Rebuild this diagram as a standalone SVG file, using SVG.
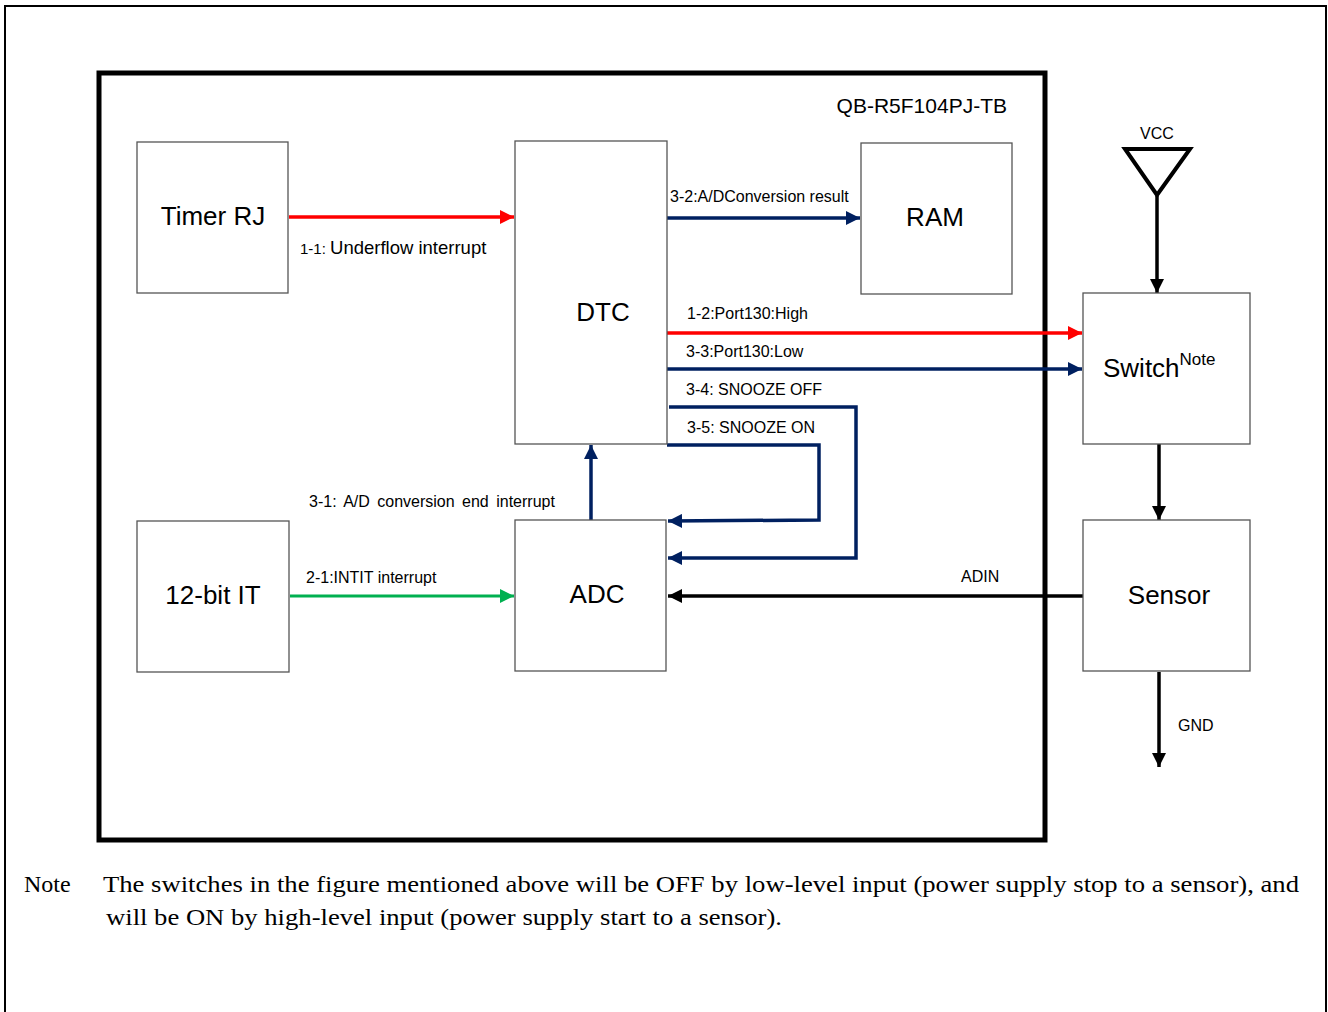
<svg xmlns="http://www.w3.org/2000/svg" width="1328" height="1012" viewBox="0 0 1328 1012">
<defs>
<style>
.box{fill:#fff;stroke:#555;stroke-width:1.3}
.t{font-family:"Liberation Sans",Arial,sans-serif;fill:#000}
.big{font-size:26px;text-anchor:middle}
.lbl{font-size:16px}
.red{stroke:#ff0000;stroke-width:3.5;fill:none}
.navy{stroke:#002060;stroke-width:3.5;fill:none}
.grn{stroke:#00b050;stroke-width:3;fill:none}
.blk{stroke:#000;stroke-width:3.5;fill:none}
.note{font-family:"Liberation Serif","Times New Roman",serif;font-size:24px;fill:#000}
</style>
<marker id="aR" viewBox="0 0 10 10" refX="10" refY="5" markerWidth="16" markerHeight="14" markerUnits="userSpaceOnUse" orient="auto"><path d="M0,0L10,5L0,10z" fill="#ff0000"/></marker>
<marker id="aN" viewBox="0 0 10 10" refX="10" refY="5" markerWidth="16" markerHeight="14" markerUnits="userSpaceOnUse" orient="auto"><path d="M0,0L10,5L0,10z" fill="#002060"/></marker>
<marker id="aG" viewBox="0 0 10 10" refX="10" refY="5" markerWidth="16" markerHeight="14" markerUnits="userSpaceOnUse" orient="auto"><path d="M0,0L10,5L0,10z" fill="#00b050"/></marker>
<marker id="aK" viewBox="0 0 10 10" refX="10" refY="5" markerWidth="16" markerHeight="14" markerUnits="userSpaceOnUse" orient="auto"><path d="M0,0L10,5L0,10z" fill="#000"/></marker>
</defs>
<rect width="1328" height="1012" fill="#fff"/>
<path d="M5,1012V6H1326V1012" fill="none" stroke="#000" stroke-width="2"/>
<rect x="99" y="73" width="946" height="767" fill="none" stroke="#000" stroke-width="5"/>
<text class="t" x="1007" y="113" font-size="21" text-anchor="end">QB-R5F104PJ-TB</text>

<g id="connectors">
<line class="red" x1="289" y1="217" x2="514" y2="217" marker-end="url(#aR)"/>
<text class="t" x="300" y="254"><tspan font-size="15">1-1: </tspan><tspan font-size="18.5">Underflow interrupt</tspan></text>
<line class="navy" x1="667" y1="218" x2="860" y2="218" marker-end="url(#aN)"/>
<text class="t lbl" x="670" y="202">3-2:A/DConversion result</text>
<line class="red" x1="667" y1="333" x2="1082" y2="333" marker-end="url(#aR)"/>
<text class="t lbl" x="687" y="319">1-2:Port130:High</text>
<line class="navy" x1="667" y1="369" x2="1082" y2="369" marker-end="url(#aN)"/>
<text class="t lbl" x="686" y="357">3-3:Port130:Low</text>
<polyline class="navy" points="669,407 856,407 856,558 668,558" marker-end="url(#aN)"/>
<text class="t lbl" x="686" y="395">3-4: SNOOZE OFF</text>
<polyline class="navy" points="667,445 819,445 819,520 668,521" marker-end="url(#aN)"/>
<text class="t lbl" x="687" y="433">3-5: SNOOZE ON</text>
<line class="navy" x1="591" y1="520" x2="591" y2="445" marker-end="url(#aN)"/>
<text class="t lbl" x="309" y="507" word-spacing="3">3-1: A/D conversion end interrupt</text>
<line class="grn" x1="290" y1="596" x2="514" y2="596" marker-end="url(#aG)"/>
<text class="t lbl" x="306" y="583">2-1:INTIT interrupt</text>
<line class="blk" x1="1083" y1="596" x2="668" y2="596" marker-end="url(#aK)"/>
<text class="t lbl" x="961" y="582">ADIN</text>
<polygon points="1125,149 1190,149 1157,195" fill="none" stroke="#000" stroke-width="4"/>
<text class="t lbl" x="1157" y="139" text-anchor="middle">VCC</text>
<line class="blk" x1="1157" y1="196" x2="1157" y2="293" marker-end="url(#aK)"/>
<line class="blk" x1="1159" y1="444" x2="1159" y2="520" marker-end="url(#aK)"/>
<line class="blk" x1="1159" y1="672" x2="1159" y2="767" marker-end="url(#aK)"/>
<text class="t lbl" x="1178" y="731">GND</text>
</g>

<g id="timer-rj"><rect class="box" x="137" y="142" width="151" height="151"/><text class="t big" x="213" y="225">Timer RJ</text></g>
<g id="dtc"><rect class="box" x="515" y="141" width="152" height="303"/><text class="t big" x="603" y="321">DTC</text></g>
<g id="ram"><rect class="box" x="861" y="143" width="151" height="151"/><text class="t big" x="935" y="226">RAM</text></g>
<g id="it12"><rect class="box" x="137" y="521" width="152" height="151"/><text class="t big" x="213" y="604">12-bit IT</text></g>
<g id="adc"><rect class="box" x="515" y="520" width="151" height="151"/><text class="t big" x="597" y="603">ADC</text></g>
<g id="switch"><rect class="box" x="1083" y="293" width="167" height="151"/><text class="t" x="1103" y="377" font-size="26">Switch<tspan font-size="17" dy="-12">Note</tspan></text></g>
<g id="sensor"><rect class="box" x="1083" y="520" width="167" height="151"/><text class="t big" x="1169" y="604">Sensor</text></g>

<text class="note" x="24" y="892">Note</text>
<text class="note" x="103" y="892" textLength="1196" lengthAdjust="spacingAndGlyphs">The switches in the figure mentioned above will be OFF by low-level input (power supply stop to a sensor), and</text>
<text class="note" x="106" y="925" textLength="676" lengthAdjust="spacingAndGlyphs">will be ON by high-level input (power supply start to a sensor).</text>
</svg>
